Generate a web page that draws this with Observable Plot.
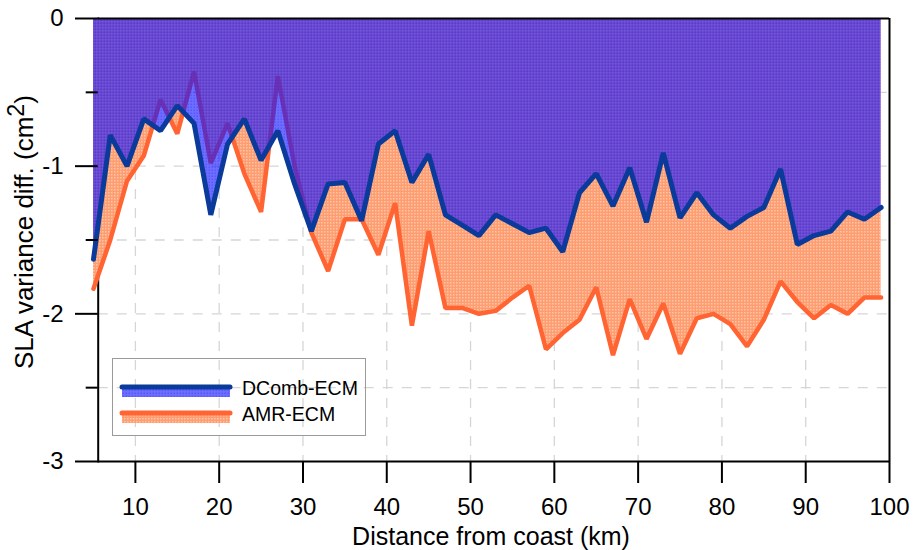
<!DOCTYPE html>
<html>
<head>
<meta charset="utf-8">
<script src="https://cdn.jsdelivr.net/npm/d3@7"></script>
<script src="https://cdn.jsdelivr.net/npm/@observablehq/plot@0.6"></script>
<style>
  html, body { margin: 0; padding: 0; background: #fff; }
  #wrap { position: relative; width: 913px; height: 550px; font-family: "Liberation Sans", Arial, sans-serif; }
  #legend { position: absolute; left: 112px; top: 358px; width: 254px; height: 78px; box-sizing: border-box; border: 1px solid #9a9a9a; }
  #legend svg { position: absolute; left: -1px; top: -1px; }
  #defs { position: absolute; width: 0; height: 0; }
</style>
</head>
<body>
<svg id="defs" width="0" height="0">
  <defs>
    <pattern id="orangePat" width="3" height="3" patternUnits="userSpaceOnUse">
      <rect width="3" height="3" fill="#ff9d72"></rect>
      <rect width="1.5" height="1.5" fill="#ffc6a6"></rect>
    </pattern>
    <pattern id="bluePat" width="3" height="3" patternUnits="userSpaceOnUse">
      <rect width="3" height="3" fill="#1414ff" fill-opacity="0.62"></rect>
      <rect x="1.5" y="1.5" width="1.5" height="1.5" fill="#1414ff" fill-opacity="0.25"></rect>
    </pattern>
  </defs>
</svg>
<div id="wrap">
  <div id="chart"></div>
  <div id="legend"></div>
</div>
<script>
// ---- data ----
const distance = [5,7,9,11,13,15,17,19,21,23,25,27,29,31,33,35,37,39,41,43,45,47,49,51,53,55,57,59,61,63,65,67,69,71,73,75,77,79,81,83,85,87,89,91,93,95,97,99];
const dcombEcm = [-1.63,-0.79,-1.00,-0.68,-0.76,-0.59,-0.71,-1.33,-0.85,-0.68,-0.96,-0.76,-1.12,-1.44,-1.12,-1.11,-1.37,-0.85,-0.76,-1.11,-0.92,-1.33,-1.40,-1.47,-1.33,-1.39,-1.45,-1.42,-1.58,-1.18,-1.05,-1.27,-1.01,-1.38,-0.91,-1.35,-1.18,-1.33,-1.42,-1.34,-1.28,-1.02,-1.53,-1.47,-1.44,-1.31,-1.36,-1.28];
const amrEcm = [-1.83,-1.50,-1.10,-0.93,-0.55,-0.78,-0.36,-0.98,-0.71,-1.05,-1.31,-0.39,-1.00,-1.45,-1.71,-1.36,-1.36,-1.60,-1.25,-2.08,-1.44,-1.96,-1.96,-2.00,-1.98,-1.89,-1.81,-2.24,-2.13,-2.04,-1.82,-2.28,-1.90,-2.17,-1.93,-2.27,-2.03,-2.00,-2.07,-2.22,-2.04,-1.78,-1.92,-2.03,-1.94,-2.00,-1.89,-1.89];
const seriesNames = ["DComb-ECM", "AMR-ECM"];
const yTicks = [0, -1, -2, -3];
const yMinorTicks = [-0.5, -1.5, -2.5];
const yGrid = [-0.5, -1, -1.5, -2, -2.5];
const xTicks = [10, 20, 30, 40, 50, 60, 70, 80, 90, 100];
const xGrid = [10, 20, 30, 40, 50, 60, 70, 80, 90];
const xLabel = "Distance from coast (km)";
const yLabelMain = "SLA variance diff. (cm";
const yLabelSup = "2";

// ---- styles ----
const C = {
  blueLine: "#0a3a9a",
  blueFill: "url(#bluePat)",
  orangeLine: "#ff6432",
  orangeFill: "url(#orangePat)",
  grid: "#d6d6d6"
};

const rows = distance.map((d, i) => ({d, dcomb: dcombEcm[i], amr: amrEcm[i]}));

const chart = Plot.plot({
  width: 913,
  height: 550,
  marginLeft: 97.7,
  marginRight: 24,
  marginTop: 18,
  marginBottom: 89,
  x: {domain: [5, 100], range: [93, 889]},
  y: {domain: [-3, 0]},
  style: {fontFamily: "'Liberation Sans', Arial, sans-serif", fontSize: "24px", background: "white", color: "black"},
  marks: [
    Plot.gridX(xGrid, {stroke: C.grid, strokeOpacity: 1, strokeWidth: 1.3, strokeDasharray: "10,9"}),
    Plot.gridY(yGrid, {stroke: C.grid, strokeOpacity: 1, strokeWidth: 1.3, strokeDasharray: "10,9"}),
    Plot.frame({anchor: "left", stroke: "black", strokeWidth: 2}),
    Plot.areaY(rows, {x: "d", y: "amr", fill: C.orangeFill}),
    Plot.line(rows, {x: "d", y: "amr", stroke: C.orangeLine, strokeWidth: 4.5, strokeLinejoin: "miter"}),
    Plot.areaY(rows, {x: "d", y: "dcomb", fill: C.blueFill}),
    Plot.line(rows, {x: "d", y: "dcomb", stroke: C.blueLine, strokeWidth: 5, strokeLinejoin: "miter"}),
    Plot.ruleY([0], {stroke: "black", strokeWidth: 2}),
    Plot.ruleY([-3], {stroke: "black", strokeWidth: 2}),
    Plot.ruleX([100], {stroke: "black", strokeWidth: 2, y1: 0, y2: -3}),
    Plot.axisY(yTicks, {tickSize: 22.7, tickPadding: 12, tickFormat: d => String(d), strokeWidth: 2, label: null}),
    Plot.axisY(yMinorTicks, {tickSize: 12, tickFormat: () => "", strokeWidth: 2, label: null}),
    Plot.axisX(xTicks, {tickSize: 22, tickPadding: 14, tickFormat: d => String(d), strokeWidth: 2, label: null})
  ]
});

document.getElementById("chart").appendChild(chart);

const svg = d3.select(chart);
svg.append("text")
  .attr("x", 491).attr("y", 545)
  .attr("text-anchor", "middle")
  .attr("font-size", 25)
  .attr("fill", "black")
  .text(xLabel);

const yt = svg.append("text")
  .attr("transform", "translate(33,232) rotate(-90)")
  .attr("text-anchor", "middle")
  .attr("font-size", 26)
  .attr("fill", "black");
yt.append("tspan").text(yLabelMain);
yt.append("tspan").attr("dy", "-0.38em").attr("font-size", "0.9em").text(yLabelSup);
yt.append("tspan").attr("dy", "0.34em").text(")");

// ---- legend ----
const lg = d3.select("#legend").append("svg").attr("width", 254).attr("height", 78)
  .style("font-family", "'Liberation Sans', Arial, sans-serif");
const items = [
  {name: seriesNames[0], line: C.blueLine, fill: C.blueFill},
  {name: seriesNames[1], line: C.orangeLine, fill: C.orangeFill}
];
items.forEach((it, i) => {
  const y = 29 + i * 26;
  lg.append("rect").attr("x", 10).attr("y", y).attr("width", 108).attr("height", 10)
    .attr("fill", it.fill);
  lg.append("line").attr("x1", 10).attr("x2", 118).attr("y1", y).attr("y2", y)
    .attr("stroke", it.line).attr("stroke-width", 5).attr("stroke-linecap", "round");
  lg.append("text").attr("x", 130).attr("y", y + 7.5).attr("font-size", 19.5).attr("fill", "black").text(it.name);
});
</script>
</body>
</html>
